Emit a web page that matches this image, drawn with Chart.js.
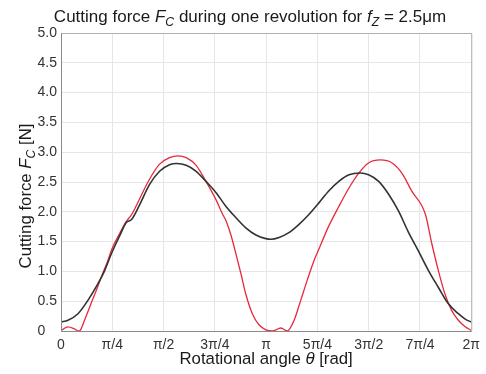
<!DOCTYPE html>
<html>
<head>
<meta charset="utf-8">
<script src="https://cdn.jsdelivr.net/npm/chart.js@4.4.0/dist/chart.umd.min.js"></script>
<style>
html,body{margin:0;padding:0;background:#fff;}
#wrap{width:486px;height:374px;position:relative;}
</style>
</head>
<body>
<div id="wrap"><canvas id="c" width="486" height="374"></canvas></div>
<script>
// ---- data ----
const blackTheta = [0, 0.107, 0.26, 0.41, 0.564, 0.667, 0.773, 0.90, 1.0, 1.08, 1.205, 1.357, 1.51, 1.662, 1.774, 1.917, 2.07, 2.22, 2.375, 2.527, 2.68, 2.83, 2.985, 3.137, 3.213, 3.34, 3.49, 3.645, 3.80, 3.95, 4.10, 4.255, 4.41, 4.586, 4.71, 4.865, 5.02, 5.17, 5.32, 5.475, 5.63, 5.78, 5.93, 6.085, 6.19, 6.283];
const blackForce = [0.15, 0.18, 0.29, 0.51, 0.79, 1.01, 1.30, 1.60, 1.82, 1.87, 2.12, 2.46, 2.68, 2.79, 2.81, 2.78, 2.68, 2.51, 2.32, 2.09, 1.90, 1.73, 1.61, 1.55, 1.54, 1.57, 1.65, 1.79, 1.96, 2.15, 2.35, 2.51, 2.62, 2.65, 2.62, 2.51, 2.29, 2.01, 1.66, 1.34, 1.01, 0.73, 0.46, 0.29, 0.20, 0.15];

const redTheta = [0, 0.107, 0.2, 0.27, 0.3, 0.36, 0.46, 0.54, 0.615, 0.717, 0.773, 0.90, 1.0, 1.08, 1.205, 1.357, 1.51, 1.662, 1.79, 1.917, 2.07, 2.22, 2.375, 2.475, 2.527, 2.60, 2.68, 2.756, 2.83, 2.93, 3.035, 3.137, 3.24, 3.366, 3.467, 3.57, 3.67, 3.77, 3.874, 3.94, 4.10, 4.255, 4.41, 4.56, 4.71, 4.89, 5.07, 5.22, 5.37, 5.58, 5.68, 5.78, 5.88, 5.98, 6.085, 6.19, 6.283];
const redForce = [0.01, 0.07, 0.04, 0.0, 0.02, 0.18, 0.46, 0.68, 0.90, 1.18, 1.36, 1.64, 1.84, 1.95, 2.22, 2.55, 2.80, 2.91, 2.94, 2.91, 2.78, 2.51, 2.20, 1.96, 1.85, 1.62, 1.29, 0.96, 0.62, 0.29, 0.10, 0.02, 0.0, 0.05, 0.0, 0.18, 0.51, 0.85, 1.18, 1.35, 1.76, 2.09, 2.40, 2.65, 2.82, 2.87, 2.82, 2.65, 2.35, 1.96, 1.46, 1.01, 0.62, 0.35, 0.18, 0.07, 0.01];

const xTickValues = [0, Math.PI/4, Math.PI/2, 3*Math.PI/4, Math.PI, 5*Math.PI/4, 3*Math.PI/2, 7*Math.PI/4, 2*Math.PI];
const xTickLabels = ['0', 'π/4', 'π/2', '3π/4', 'π', '5π/4', '3π/2', '7π/4', '2π'];
const yTickValues = [0, 0.5, 1, 1.5, 2, 2.5, 3, 3.5, 4, 4.5, 5];
const yTickLabels = ['0', '0.5', '1.0', '1.5', '2.0', '2.5', '3.0', '3.5', '4.0', '4.5', '5.0'];

const titleParts = [
  {t: 'Cutting force '}, {t: 'F', it: true}, {t: 'C', it: true, sub: true},
  {t: ' during one revolution for '}, {t: 'f', it: true}, {t: 'Z', it: true, sub: true},
  {t: ' = 2.5μm'}
];
const yTitleParts = [{t: 'Cutting force '}, {t: 'F', it: true}, {t: 'C', it: true, sub: true}, {t: ' [N]'}];
const xTitleParts = [{t: 'Rotational angle '}, {t: 'θ', it: true}, {t: ' [rad]'}];

const FONT = '"Liberation Sans", Arial, sans-serif';

function richWidth(ctx, parts, size) {
  let w = 0;
  for (const p of parts) {
    const s = p.sub ? size * 0.72 : size;
    ctx.font = (p.it ? 'italic ' : '') + s + 'px ' + FONT;
    w += ctx.measureText(p.t).width;
  }
  return w;
}
function drawRich(ctx, parts, x, y, size, color) {
  ctx.fillStyle = color;
  ctx.textBaseline = 'alphabetic';
  ctx.textAlign = 'left';
  let cx = x;
  for (const p of parts) {
    const s = p.sub ? size * 0.72 : size;
    ctx.font = (p.it ? 'italic ' : '') + s + 'px ' + FONT;
    ctx.fillText(p.t, cx, y + (p.sub ? size * 0.25 : 0));
    cx += ctx.measureText(p.t).width;
  }
}

const textPlugin = {
  id: 'richText',
  afterDraw(chart) {
    const ctx = chart.ctx;
    const area = chart.chartArea;
    ctx.save();
    // title
    const tw = richWidth(ctx, titleParts, 17);
    drawRich(ctx, titleParts, 250 - tw / 2, 22, 17, '#1a1a1a');
    // x title
    const xw = richWidth(ctx, xTitleParts, 16.8);
    drawRich(ctx, xTitleParts, (area.left + area.right) / 2 - xw / 2, 364, 16.8, '#1a1a1a');
    // y title
    const yw = richWidth(ctx, yTitleParts, 16.8);
    ctx.translate(31, 196);
    ctx.rotate(-Math.PI / 2);
    drawRich(ctx, yTitleParts, -yw / 2, 0, 16.8, '#1a1a1a');
    ctx.restore();
  }
};

const borderPlugin = {
  id: 'box',
  afterDatasetsDraw(chart) {
    const ctx = chart.ctx, a = chart.chartArea;
    ctx.save();
    ctx.strokeStyle = '#b0b0b0';
    ctx.lineWidth = 1;
    ctx.beginPath();
    ctx.moveTo(a.left, a.top + 0.5); ctx.lineTo(a.right + 0.5, a.top + 0.5);
    ctx.lineTo(a.right + 0.5, a.bottom);
    ctx.stroke();
    ctx.strokeStyle = '#8a8a8a';
    ctx.beginPath();
    ctx.moveTo(a.left + 0.5, a.top); ctx.lineTo(a.left + 0.5, a.bottom + 0.5);
    ctx.lineTo(a.right + 0.5, a.bottom + 0.5);
    ctx.stroke();
    ctx.restore();
  }
};

new Chart(document.getElementById('c'), {
  type: 'line',
  data: {
    datasets: [
      {
        label: 'model',
        data: blackTheta.map((t, i) => ({x: t, y: blackForce[i]})),
        borderColor: '#333333', borderWidth: 1.6, pointRadius: 0,
        cubicInterpolationMode: 'monotone', fill: false
      },
      {
        label: 'measured',
        data: redTheta.map((t, i) => ({x: t, y: redForce[i]})),
        borderColor: '#e8283c', borderWidth: 1.3, pointRadius: 0,
        cubicInterpolationMode: 'monotone', fill: false
      }
    ]
  },
  options: {
    responsive: false,
    animation: false,
    layout: {padding: {top: 33, right: 13, left: 0, bottom: 0}},
    plugins: {legend: {display: false}, tooltip: {enabled: false}, title: {display: false}},
    scales: {
      x: {
        type: 'linear', min: 0, max: 2 * Math.PI,
        afterBuildTicks(s) { s.ticks = xTickValues.map(v => ({value: v})); },
        afterFit(s) { s.height = 43; },
        grid: {color: '#e6e6e6', drawTicks: false},
        border: {display: false},
        ticks: {
          autoSkip: false, maxRotation: 0, padding: 6, color: '#333',
          font: {family: FONT, size: 14},
          callback(v, i) { return xTickLabels[i]; }
        }
      },
      y: {
        type: 'linear', min: 0, max: 5,
        afterBuildTicks(s) { s.ticks = yTickValues.map(v => ({value: v})); },
        afterFit(s) { s.width = 61; },
        grid: {color: '#e6e6e6', drawTicks: false},
        border: {display: false},
        ticks: {
          padding: 4, color: '#333',
          font: {family: FONT, size: 14},
          callback(v, i) { return i === 0 ? yTickLabels[i] + '   ' : yTickLabels[i]; }
        }
      }
    }
  },
  plugins: [textPlugin, borderPlugin]
});
</script>
</body>
</html>
